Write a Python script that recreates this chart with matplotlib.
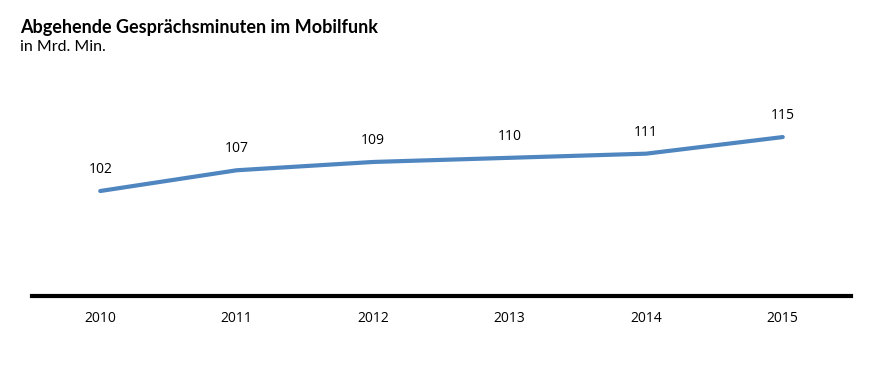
import matplotlib.pyplot as plt

years = ['2010', '2011', '2012', '2013', '2014', '2015']
minutes = [102, 107, 109, 110, 111, 115]

fig = plt.figure(figsize=(8.73, 3.73), dpi=100)
ax = fig.add_axes([32 / 873, 77 / 373, 819 / 873, (296 - 80) / 373])

x = range(len(years))
ax.plot(x, minutes, color='#4f86c0', linewidth=3, solid_capstyle='round')
for xi, v in zip(x, minutes):
    ax.annotate(str(v), (xi, v), xytext=(0, 10), textcoords='offset points',
                ha='center', va='bottom', fontsize=10, family='Open Sans')

ax.set_xlim(-0.5, 5.5)
ax.set_ylim(76.7, 128.75)
ax.set_xticks(list(x))
ax.set_xticklabels(years, fontsize=10, family='Open Sans')
ax.tick_params(axis='x', length=0, pad=11)
ax.set_yticks([])
for s in ['top', 'right', 'left']:
    ax.spines[s].set_visible(False)
ax.spines['bottom'].set_linewidth(3)
ax.spines['bottom'].set_color('black')

fig.text(20 / 873, 1 - 27 / 373, 'Abgehende Gesprächsminuten im Mobilfunk',
         fontsize=13, fontweight='bold', family='Lato', va='center')
fig.text(20 / 873, 1 - 47 / 373, 'in Mrd. Min.', fontsize=11.5, family='Lato', va='center')

fig.savefig('out.png', dpi=100)
